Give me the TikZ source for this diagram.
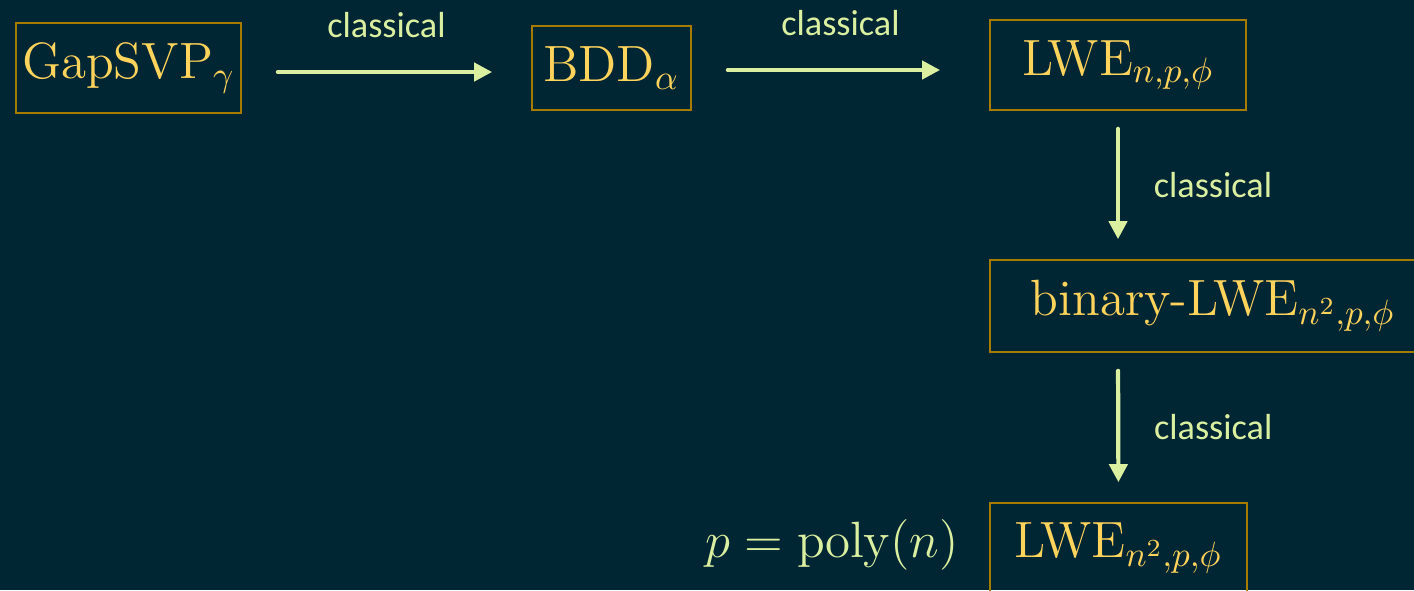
\documentclass[tikz,border=0pt]{standalone}
\usepackage{amsmath}
\usepackage{fontspec}
\setsansfont{Carlito}
\usetikzlibrary{arrows.meta,positioning}

\definecolor{bg}{HTML}{002633}
\definecolor{gold}{HTML}{FFD35C}
\definecolor{frame}{HTML}{A67C00}
\definecolor{lime}{HTML}{DAF0A0}

\begin{document}
\begin{tikzpicture}[x=0.01cm,y=-0.01cm,
	problem/.style={draw=frame,line width=0.45pt,text=gold,inner sep=0pt,
		font=\fontsize{14.5}{17}\selectfont},
	reduce/.style={draw=lime,line width=1.2pt,line cap=round,
		-{Triangle[length=0.18cm,width=0.18cm]}},
	how/.style={text=lime,font=\sffamily\fontsize{10.3}{12}\selectfont}]
	% background
	\clip (0,0) rectangle (1414,590);
	\fill[bg] (0,0) rectangle (1414,590);
	% problems
	\node[problem,minimum width=2.25cm,minimum height=0.9cm] (gapsvp) at (128.5,68) {GapSVP$_\gamma$};
	\node[problem,minimum width=1.59cm,minimum height=0.84cm] (bdd) at (611.5,68) {BDD$_\alpha$};
	\node[problem,minimum width=2.56cm,minimum height=0.9cm] (lwe) at (1118,65) {LWE$_{n,p,\phi}$};
	\node[problem,minimum width=4.46cm,minimum height=0.92cm] (blwe) at (1213,306) {binary-LWE$_{n^2,p,\phi}$};
	\node[problem,minimum width=2.57cm,minimum height=0.9cm] (lwe2) at (1118.5,548) {LWE$_{n^2,p,\phi}$};
	\node[text=lime,inner sep=0pt,anchor=base east,font=\fontsize{14.5}{17}\selectfont] (cond)
		at ([xshift=-0.3cm]lwe2.base west) {$p=\operatorname{poly}(n)$};
	% reductions
	\draw[reduce,shorten <=0.36cm,shorten >=0.39cm] ([yshift=-0.04cm]gapsvp.east) -- ([yshift=-0.04cm]bdd.west)
		node[how,midway,above=0.2cm] {classical};
	\draw[reduce,shorten <=0.36cm,shorten >=0.49cm] ([yshift=-0.02cm]bdd.east) -- ([yshift=-0.02cm]bdd.east -| lwe.west)
		node[how,midway,above=0.2cm] {classical};
	\draw[reduce,shorten <=0.18cm,shorten >=0.2cm] (lwe.south) -- (lwe.south |- blwe.north)
		node[how,midway,right=0.22cm] {classical};
	\draw[reduce,shorten <=0.18cm,shorten >=0.2cm] (lwe.south |- blwe.south) -- (lwe2.north)
		node[how,midway,right=0.22cm] {classical};
\end{tikzpicture}
\end{document}
